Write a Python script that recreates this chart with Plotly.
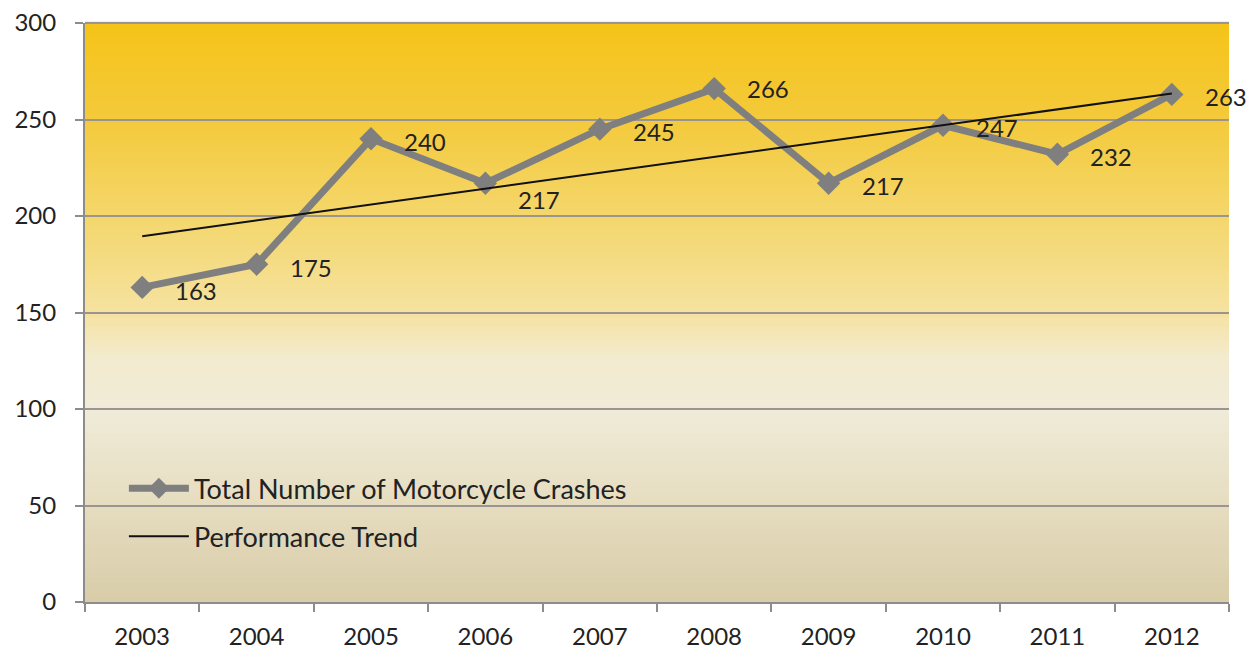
import numpy as np
import plotly.graph_objects as go

years = ["2003", "2004", "2005", "2006", "2007", "2008", "2009", "2010", "2011", "2012"]
crashes = [163, 175, 240, 217, 245, 266, 217, 247, 232, 263]
y_ticks = [0, 50, 100, 150, 200, 250, 300]

# linear trend (least squares) computed from the series
idx = np.arange(len(crashes))
slope, intercept = np.polyfit(idx, crashes, 1)
trend = list(intercept + slope * idx)

# label vertical nudges (styling)
label_yshift = [-3, -3, -3, -16, -2, 0, -2, -2, -2, -2]

FONT = "Lato"
FS = 24
LEG_FS = 27
fig = go.Figure()

# background gradient (styling), stacked thin bands in axis-domain coordinates
stops = [(0.0, (0xD8, 0xCC, 0xA8)), (0.17, (0xE6, 0xDD, 0xC0)), (0.33, (0xF0, 0xEB, 0xD9)),
         (0.42, (0xF3, 0xEB, 0xCF)), (0.5, (0xF5, 0xE2, 0xA0)), (0.67, (0xF4, 0xD6, 0x6A)),
         (0.83, (0xF4, 0xCA, 0x3C)), (1.0, (0xF5, 0xC3, 0x18))]
n = 120
shapes = []
for i in range(n):
    t = (i + 0.5) / n
    for j in range(len(stops) - 1):
        if stops[j][0] <= t <= stops[j + 1][0]:
            a, ca = stops[j]
            b, cb = stops[j + 1]
            f = (t - a) / (b - a)
            c = tuple(int(round(ca[k] + (cb[k] - ca[k]) * f)) for k in range(3))
            break
    shapes.append(dict(type="rect", xref="x domain", yref="y domain", x0=0, x1=1,
                       y0=i / n, y1=(i + 1) / n + 0.002, fillcolor="rgb(%d,%d,%d)" % c,
                       line=dict(width=0), layer="below"))
# top border line of plot area (styling)
shapes.append(dict(type="line", xref="x domain", yref="y domain", x0=0, x1=1, y0=1, y1=1,
                   line=dict(color="#9b9591", width=2), layer="below"))

fig.add_trace(go.Scatter(
    x=years, y=crashes, mode="lines+markers", name="Total Number of Motorcycle Crashes",
    line=dict(color="#7f7f7f", width=7), legendgroup="a",
    marker=dict(symbol="diamond", size=18, color="#7f7f7f"),
))
fig.add_trace(go.Scatter(
    x=years, y=trend, mode="lines", name="Performance Trend", legendgroup="b",
    line=dict(color="#111111", width=2),
))

# category axis: annotation x uses the category's serial number
for i, (v, ys) in enumerate(zip(crashes, label_yshift)):
    fig.add_annotation(x=i, y=v, xref="x", yref="y", text=str(v), showarrow=False,
                       xanchor="left", xshift=31, yshift=ys,
                       font=dict(family=FONT, size=FS, color="#222222"))

fig.update_layout(
    width=1249, height=650,
    margin=dict(l=77, r=28, t=15, b=56),
    paper_bgcolor="white", plot_bgcolor="#F0EBD9",
    shapes=shapes,
    font=dict(family=FONT, size=FS, color="#222222"),
    showlegend=True,
    legend=dict(x=0.034, y=0.238, xanchor="left", yanchor="top", bgcolor="rgba(0,0,0,0)",
                font=dict(family=FONT, size=LEG_FS, color="#222222"), traceorder="grouped",
                tracegroupgap=10, itemwidth=60),
)
fig.update_xaxes(type="category", tickson="boundaries", ticks="outside", ticklen=8,
                 tickcolor="#8c8c8c", tickwidth=2, showline=True, linecolor="#8c8c8c",
                 linewidth=2, showgrid=False, tickfont=dict(family=FONT, size=FS, color="#222222"),
                 range=[-0.5, 9.5], automargin=False, ticklabelstandoff=12)
fig.update_yaxes(range=[0, 300], tickvals=y_ticks, ticks="outside", ticklen=8,
                 tickcolor="#8c8c8c", tickwidth=2, showline=True, linecolor="#8c8c8c",
                 linewidth=2, showgrid=True, gridcolor="#9b9591", gridwidth=2,
                 zeroline=False, tickfont=dict(family=FONT, size=FS, color="#222222"),
                 automargin=False, ticklabelstandoff=14, ticklabeloverflow="allow")

fig.write_html("out.html")
